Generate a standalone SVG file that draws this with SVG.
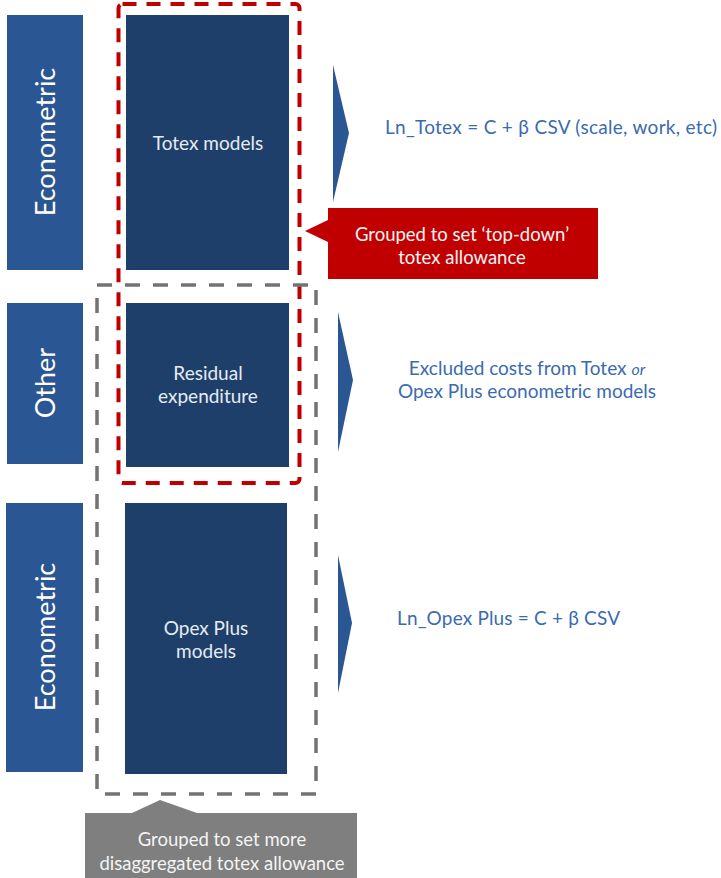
<svg xmlns="http://www.w3.org/2000/svg" width="721" height="878" viewBox="0 0 721 878">
<style>
  .bar { fill: #2A5694; }
  .box { fill: #1E3F69; }
  .bartext { font-family: Lato, "Open Sans", sans-serif; font-size: 27px; fill: #FFFFFF; text-anchor: middle; }
  .boxtext { font-family: Lato, "Open Sans", sans-serif; font-size: 19px; fill: #E6ECF3; text-anchor: middle; }
  .eq { font-family: Lato, "Open Sans", sans-serif; font-size: 19px; fill: #3A6BB0; }
  .chev { fill: #2A5694; }
  .calltext { font-family: Lato, "Open Sans", sans-serif; font-size: 18.5px; fill: #F4F4F4; text-anchor: middle; }
</style>
<rect width="721" height="878" fill="#FFFFFF"/>

<g id="bar-econometric-1">
  <rect class="bar" x="7" y="15" width="76" height="255"/>
  <text class="bartext" transform="translate(55,142) rotate(-90)">Econometric</text>
</g>
<g id="bar-other">
  <rect class="bar" x="7" y="303" width="76" height="161"/>
  <text class="bartext" transform="translate(55,383) rotate(-90)">Other</text>
</g>
<g id="bar-econometric-2">
  <rect class="bar" x="6" y="503" width="77" height="269"/>
  <text class="bartext" transform="translate(55,637) rotate(-90)">Econometric</text>
</g>

<g id="totex-models">
  <rect class="box" x="126" y="15" width="163" height="255"/>
  <text class="boxtext" x="208" y="150">Totex models</text>
</g>
<g id="residual-expenditure">
  <rect class="box" x="126" y="303" width="163" height="164"/>
  <text class="boxtext" x="208" y="380">Residual</text>
  <text class="boxtext" x="208" y="403">expenditure</text>
</g>
<g id="opex-plus-models">
  <rect class="box" x="125" y="503" width="162" height="271"/>
  <text class="boxtext" x="206" y="635">Opex Plus</text>
  <text class="boxtext" x="206" y="658">models</text>
</g>

<g id="group-top-down">
  <rect x="118.5" y="4" width="181" height="479" rx="4" fill="none" stroke="#C00000" stroke-width="4" stroke-dasharray="14 10"/>
</g>
<g id="group-disaggregated">
  <rect x="97" y="285" width="219" height="509" fill="none" stroke="#737373" stroke-width="3.5" stroke-dasharray="15 13"/>
</g>

<g id="connectors">
  <polygon class="chev" points="333,65 349,133 333,202"/>
  <polygon class="chev" points="338,312 353,380 338,452"/>
  <polygon class="chev" points="338,555 352,623 338,693"/>
</g>

<g id="eq-totex">
  <text class="eq" x="385" y="134" textLength="332">Ln_Totex = C + β CSV (scale, work, etc)</text>
</g>
<g id="eq-excluded">
  <text class="eq" x="527" y="375" text-anchor="middle">Excluded costs from Totex <tspan font-style="italic" font-size="16px">or</tspan></text>
  <text class="eq" x="527" y="398" text-anchor="middle">Opex Plus econometric models</text>
</g>
<g id="eq-opex">
  <text class="eq" x="397" y="625" textLength="223">Ln_Opex Plus = C + β CSV</text>
</g>

<g id="callout-top-down">
  <polygon fill="#C00000" points="328,208 598,208 598,279 328,279 328,242 305,231 328,220"/>
  <text class="calltext" x="462" y="241">Grouped to set ‘top-down’</text>
  <text class="calltext" x="462" y="264">totex allowance</text>
</g>
<g id="callout-disaggregated">
  <polygon fill="#7F7F7F" points="85,813 132,813 160,800 197,813 357,813 357,878 85,878"/>
  <text class="calltext" x="222" y="846">Grouped to set more</text>
  <text class="calltext" x="222" y="870">disaggregated totex allowance</text>
</g>
</svg>
